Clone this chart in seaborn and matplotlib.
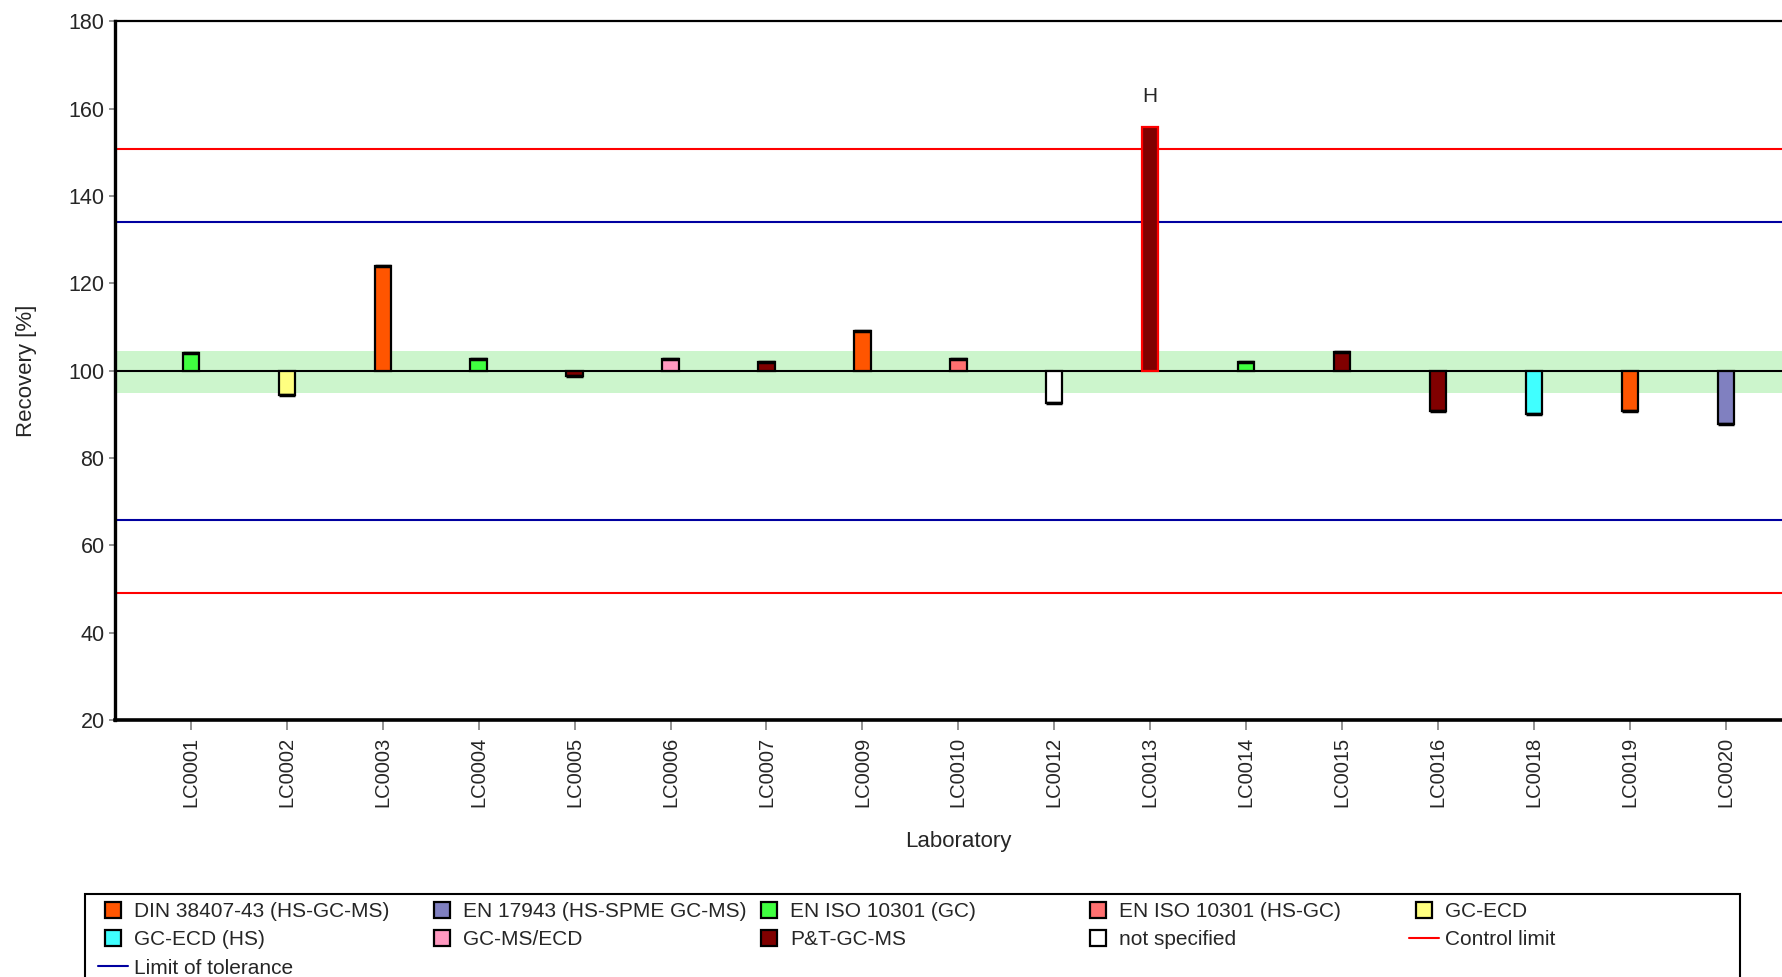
# recovery per laboratory, bar chart around the 100 % target
import seaborn as sns
import matplotlib.pyplot as plt
import pandas as pd
from matplotlib.lines import Line2D
from matplotlib.patches import Rectangle

# data
labs = ['LC0001', 'LC0002', 'LC0003', 'LC0004', 'LC0005', 'LC0006', 'LC0007', 'LC0009', 'LC0010',
        'LC0012', 'LC0013', 'LC0014', 'LC0015', 'LC0016', 'LC0018', 'LC0019', 'LC0020']
recovery = [104.0, 94.5, 124.1, 102.7, 98.9, 102.8, 101.9, 109.1, 102.8,
            92.6, 155.9, 101.9, 104.2, 90.7, 90.2, 90.8, 87.8]
methods = ['EN ISO 10301 (GC)', 'GC-ECD', 'DIN 38407-43 (HS-GC-MS)', 'EN ISO 10301 (GC)', 'P&T-GC-MS',
           'GC-MS/ECD', 'P&T-GC-MS', 'DIN 38407-43 (HS-GC-MS)', 'EN ISO 10301 (HS-GC)', 'not specified',
           'P&T-GC-MS', 'EN ISO 10301 (GC)', 'P&T-GC-MS', 'P&T-GC-MS', 'GC-ECD (HS)',
           'DIN 38407-43 (HS-GC-MS)', 'EN 17943 (HS-SPME GC-MS)']
flags = ['', '', '', '', '', '', '', '', '', '', 'H', '', '', '', '', '', '']

method_names = ['DIN 38407-43 (HS-GC-MS)', 'EN 17943 (HS-SPME GC-MS)', 'EN ISO 10301 (GC)',
                'EN ISO 10301 (HS-GC)', 'GC-ECD', 'GC-ECD (HS)', 'GC-MS/ECD', 'P&T-GC-MS', 'not specified']
method_colors = ['#ff5500', '#8080c0', '#40ff40', '#ff7070', '#ffff80', '#40ffff', '#ff99c0', '#800000', '#ffffff']

control_limits = [49.1, 150.9]
tolerance_limits = [65.9, 134.1]
target_band = [95.0, 104.5]
target = 100

sns.set_style("white")
plt.rcParams['font.family'] = ['Liberation Sans', 'DejaVu Sans']

df = pd.DataFrame({'lab': labs, 'recovery': recovery, 'method': methods})
df['deviation'] = df['recovery'] - target

fig = plt.figure(figsize=(17.83, 9.77), dpi=100)
ax = fig.add_axes([0.0645, 0.263, 0.946, 0.715])

palette = dict(zip(method_names, method_colors))
sns.barplot(data=df, x='lab', y='deviation', hue='method', palette=palette, dodge=False,
            saturation=1, bottom=target, width=0.17, edgecolor='black', linewidth=1.6,
            legend=False, ax=ax, zorder=3)

# outlier gets a red outline
for i, f in enumerate(flags):
    if f:
        for p in ax.patches:
            if abs(p.get_x() + p.get_width() / 2 - i) < 0.01:
                p.set_edgecolor('red')
        ax.text(i, recovery[i] + 7, f, ha='center', va='center', fontsize=15)

# thick cap at the end of each bar
for i, v in enumerate(recovery):
    if not flags[i]:
        ax.hlines(v, i - 0.085, i + 0.085, color='black', lw=2.5, zorder=4)

ax.axhspan(target_band[0], target_band[1], color='#ccf5cc', zorder=0, lw=0)
ax.axhline(target, color='black', lw=1.5, zorder=2)
for v in control_limits:
    ax.axhline(v, color='red', lw=1.5, zorder=2)
for v in tolerance_limits:
    ax.axhline(v, color='#0000a0', lw=1.5, zorder=2)

ax.set_ylim(20, 180)
ax.set_yticks(range(20, 181, 20))
ax.set_xlim(-0.79, 16.79)

ax.tick_params(axis='y', direction='out', length=4.5, width=1.2, color='#808080', pad=3, labelsize=15.5, left=True)
ax.tick_params(axis='x', direction='out', length=7, width=1.2, color='#808080', pad=5, labelsize=14.5,
               labelrotation=90, bottom=True)

for s in ax.spines.values():
    s.set_color('black')
ax.spines['left'].set_linewidth(2.4)
ax.spines['bottom'].set_linewidth(2.6)
ax.spines['top'].set_linewidth(1.6)

ax.set_xlabel('Laboratory', fontsize=16)
ax.set_ylabel('Recovery [%]', fontsize=16)
ax.xaxis.set_label_coords(0.5, -0.159)
ax.yaxis.set_label_coords(-0.046, 0.5)

# legend, laid out row by row in five columns
handles = [Line2D([], [], marker='s', ls='none', markersize=11, markerfacecolor=c,
                  markeredgecolor='black', markeredgewidth=1.6) for c in method_colors]
handles += [Line2D([], [], color='red', lw=1.5), Line2D([], [], color='#0000a0', lw=1.5)]
labels = method_names + ['Control limit', 'Limit of tolerance']

col_x = [98, 427, 754, 1083, 1409]
for j, x in enumerate(col_x):
    idx = list(range(j, len(labels), 5))
    fig.legend([handles[k] for k in idx], [labels[k] for k in idx], loc='upper left',
               bbox_to_anchor=(x / 1783, 1 - 902 / 977), frameon=False, borderpad=0,
               borderaxespad=0, handlelength=1.44, handletextpad=0.3, labelspacing=0.45, fontsize=15)

fig.add_artist(Rectangle((85 / 1783, -0.05), (1740 - 85) / 1783, 0.05 + 1 - 894 / 977,
                         transform=fig.transFigure, fill=False, edgecolor='black', lw=1.5))

fig.savefig('out.png', dpi=100)
